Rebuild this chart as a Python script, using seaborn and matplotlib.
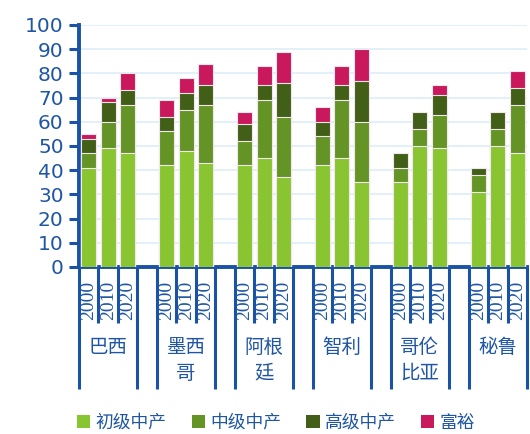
import numpy as np
import pandas as pd
import matplotlib
matplotlib.use("Agg")
import matplotlib.pyplot as plt
from matplotlib.patches import Patch
import seaborn as sns

countries = ["巴西", "墨西\n哥", "阿根\n廷", "智利", "哥伦\n比亚", "秘鲁"]
years = ["2000", "2010", "2020"]
series = ["初级中产", "中级中产", "高级中产", "富裕"]
colors = ["#88C530", "#649426", "#415F17", "#C9185B"]

# values per country, ordered by year 2000, 2010, 2020
lower_mid = [41, 49, 47, 42, 48, 43, 42, 45, 37, 42, 45, 35, 35, 50, 49, 31, 50, 47]
middle_mid = [6, 11, 20, 14, 17, 24, 10, 24, 25, 12, 24, 25, 6, 7, 14, 7, 7, 20]
upper_mid = [6, 8, 6, 6, 7, 8, 7, 6, 14, 6, 6, 17, 6, 7, 8, 3, 7, 7]
affluent = [2, 2, 7, 7, 6, 9, 5, 8, 13, 6, 8, 13, 0, 0, 4, 0, 0, 7]

axis_blue = "#1A52A6"
text_blue = "#1F56A3"

# slots: 3 year bars per country, with an empty slot between countries
slots = []
for gi, c in enumerate(countries):
    for y in years:
        slots.append(f"{gi}-{y}")
    if gi < len(countries) - 1:
        slots.append(f"gap{gi}")

rows = []
k = 0
for gi, c in enumerate(countries):
    for y in years:
        rows.append({"slot": f"{gi}-{y}", "s0": lower_mid[k], "s1": middle_mid[k],
                     "s2": upper_mid[k], "s3": affluent[k]})
        k += 1
df = pd.DataFrame(rows)
df["c0"] = df["s0"]
df["c1"] = df["c0"] + df["s1"]
df["c2"] = df["c1"] + df["s2"]
df["c3"] = df["c2"] + df["s3"]

sns.set_theme(style="white")
plt.rcParams["font.family"] = ["DejaVu Sans"]

fig = plt.figure(figsize=(5.30, 4.34), dpi=100)
ax = fig.add_axes([79 / 530, 1 - 267 / 434, (527 - 79) / 530, (267 - 25) / 434])

for i in [3, 2, 1, 0]:
    sns.barplot(data=df, x="slot", y=f"c{i}", order=slots, color=colors[i],
                saturation=1, width=0.77, edgecolor="#F3E6EC", linewidth=0.8,
                ax=ax, errorbar=None, zorder=3)

ax.set_xlim(-0.5, len(slots) - 0.5)
ax.set_ylim(0, 100)
ax.set_yticks(np.arange(0, 101, 10))
ax.set_xticks([])
ax.set_xlabel("")
ax.set_ylabel("")
ax.yaxis.grid(True, color="#DCEEF8", linewidth=1.2, zorder=0)
ax.set_axisbelow(True)
for sp in ["top", "right"]:
    ax.spines[sp].set_visible(False)
for sp in ["left", "bottom"]:
    ax.spines[sp].set_color(axis_blue)
    ax.spines[sp].set_linewidth(2.8)
ax.tick_params(axis="y", which="both", left=True, length=7, width=2.2,
               color=axis_blue, labelcolor=text_blue, labelsize=14.5, pad=4)
for t in ax.get_yticklabels():
    t.set_fontweight("medium")

# hierarchical category axis
tr = ax.get_xaxis_transform()
ax_h = 267 - 25
short_y = -(323 - 267) / ax_h
long_y = -(389 - 267) / ax_h
year_y = -(300 - 267) / ax_h
for gi, c in enumerate(countries):
    start = gi * 4
    left = start - 0.5
    right = start + 2.5
    for xb in [left, right]:
        ax.plot([xb, xb], [0, long_y], transform=tr, color=axis_blue, lw=2.2,
                clip_on=False, solid_capstyle="butt")
    for xb in [left + 1, left + 2]:
        ax.plot([xb, xb], [0, short_y], transform=tr, color=axis_blue, lw=2.2,
                clip_on=False, solid_capstyle="butt")
    for j, y in enumerate(years):
        ax.text(start + j, year_y, y, transform=tr, rotation=90, ha="center",
                va="center", fontsize=14, color=text_blue,
                family=["Liberation Serif", "DejaVu Serif"])
    ax.text(start + 1, -(337 - 267) / ax_h, c, transform=tr, ha="center",
            va="top", fontsize=14, color=text_blue, linespacing=1.3,
            family=["Noto Sans CJK SC", "DejaVu Sans"])

handles = [Patch(facecolor=colors[i], edgecolor="none") for i in range(4)]
leg = fig.legend(handles, series, loc="center", bbox_to_anchor=(276 / 530, 1 - 423 / 434),
                 ncol=4, frameon=False, handlelength=0.75, handleheight=0.75,
                 handletextpad=0.3, columnspacing=1.4,
                 prop={"family": ["Noto Sans CJK SC", "DejaVu Sans"], "size": 12.8})
for t in leg.get_texts():
    t.set_color(text_blue)

fig.savefig("out.png", dpi=100)
